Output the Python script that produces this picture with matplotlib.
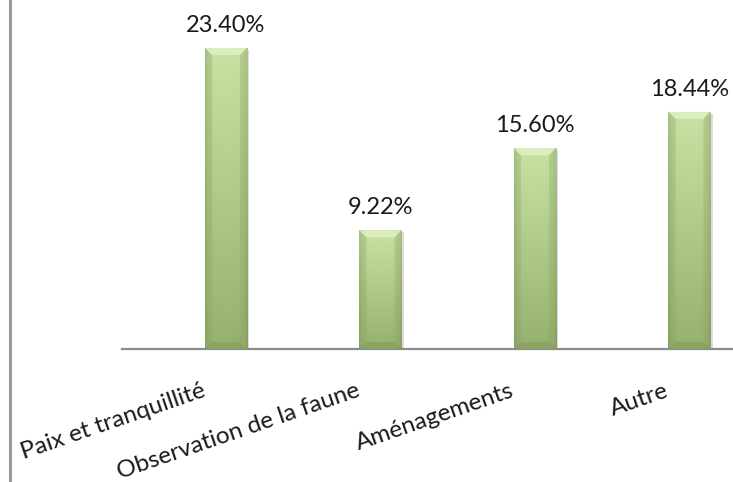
import numpy as np
import matplotlib
matplotlib.use("Agg")
import matplotlib.pyplot as plt
from matplotlib.transforms import offset_copy
from matplotlib.patches import Polygon
from matplotlib import patheffects as pe
from matplotlib.colors import to_rgb

plt.rcParams['font.family'] = ['Lato', 'DejaVu Sans']

categories = ["Paix et tranquillité", "Observation de la faune", "Aménagements", "Autre"]
values = [23.40, 9.22, 15.60, 18.44]
value_labels = ["23.40%", "9.22%", "15.60%", "18.44%"]

W, H = 733, 482
fig = plt.figure(figsize=(W / 100, H / 100), dpi=100)
ax = fig.add_axes([122 / W, 133 / H, (W - 122) / W, 349 / H])

x = np.arange(len(categories))
bar_w = 0.272
bars = ax.bar(x, values, width=bar_w, color="#b0d088", zorder=2,
              path_effects=[pe.SimplePatchShadow(offset=(1.5, -1.5), shadow_rgbFace="#999999", alpha=0.35),
                            pe.Normal()])

ax.set_xlim(-0.673, 3.282)
ax.set_ylim(0, 27.13)

# gradient fill: light at top, darker toward the bottom, darker edges
top_c = np.array(to_rgb("#c9e2a3"))
bot_c = np.array(to_rgb("#96b16e"))
ny, nx = 100, 40
t = np.linspace(0, 1, ny)[:, None, None]
grad = top_c * (1 - t) + bot_c * t
edge = np.abs(np.linspace(-1, 1, nx))[None, :, None]
grad = grad * (1 - 0.12 * edge ** 6)
grad = np.broadcast_to(grad, (ny, nx, 3)).copy()

bev_x = 7 / 154.5
bev_y = 7 / 12.86
for b in bars:
    x0, w, h = b.get_x(), b.get_width(), b.get_height()
    im = ax.imshow(grad, extent=[x0, x0 + w, 0, h], aspect="auto", origin="upper", zorder=3)
    im.set_clip_path(b)
    # bevel at top (light) and bottom (dark)
    ax.add_patch(Polygon([(x0, h), (x0 + w, h), (x0 + w - bev_x, h - bev_y), (x0 + bev_x, h - bev_y)],
                         closed=True, facecolor="#e4f2cc", alpha=0.75, lw=0, zorder=4))
    ax.add_patch(Polygon([(x0, 0), (x0 + w, 0), (x0 + w - bev_x, bev_y), (x0 + bev_x, bev_y)],
                         closed=True, facecolor="#7f9a5a", alpha=0.55, lw=0, zorder=4))
    ax.add_patch(Polygon([(x0, 0), (x0 + bev_x, bev_y), (x0 + bev_x, h - bev_y), (x0, h)],
                         closed=True, facecolor="#8fac68", alpha=0.35, lw=0, zorder=4))
    ax.add_patch(Polygon([(x0 + w, 0), (x0 + w - bev_x, bev_y), (x0 + w - bev_x, h - bev_y), (x0 + w, h)],
                         closed=True, facecolor="#8fac68", alpha=0.35, lw=0, zorder=4))

for xi, v, lab in zip(x, values, value_labels):
    ax.annotate(lab, (xi, v), xytext=(0, 11.5), textcoords="offset points",
                ha="center", va="baseline", fontsize=17, color="#1a1a1a")

# rotated category labels
lab_tr = offset_copy(ax.get_xaxis_transform(), fig=fig, x=-25, y=-31, units="dots")
for xi, c in zip(x, categories):
    ax.text(xi, 0, c, transform=lab_tr, rotation=19, rotation_mode="anchor",
            ha="right", va="top", fontsize=17.5, color="#1a1a1a")

for s in ["top", "right", "left"]:
    ax.spines[s].set_visible(False)
ax.spines["bottom"].set_color("#8c8c8c")
ax.spines["bottom"].set_linewidth(1.6)
ax.set_xticks([])
ax.set_yticks([])
ax.patch.set_alpha(0)

# grey frame line at the left edge of the picture
fig.add_artist(plt.Line2D([9.5 / W, 9.5 / W], [0, 1], transform=fig.transFigure,
                          color="#9a9a9a", lw=2.2))

fig.savefig("out.png", dpi=100)
